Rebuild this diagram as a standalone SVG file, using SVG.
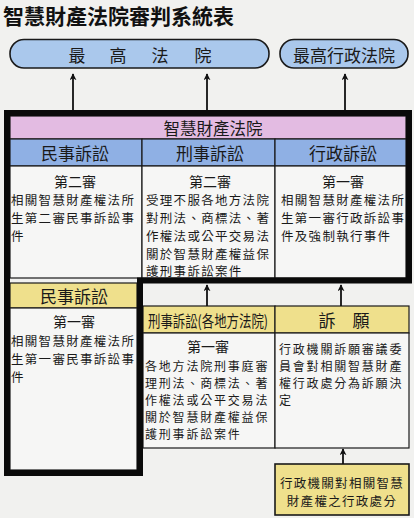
<svg xmlns="http://www.w3.org/2000/svg" width="414" height="518" viewBox="0 0 414 518">
<defs>
<style>
text{font-family:"Noto Sans CJK TC","Noto Sans CJK SC",sans-serif;fill:#1a1a1a}
.ttl{font-size:21px;font-weight:bold;fill:#111}
.pill{fill:#aac8ec;stroke:#1a1a1a;stroke-width:1.6}
.hb{fill:#8fb0e4;stroke:#1a1a1a;stroke-width:1.2}
.hy{fill:#efe08c;stroke:#1a1a1a;stroke-width:1.2}
.pk{fill:#e3bbe2;stroke:#1a1a1a;stroke-width:1.2}
.bd{fill:#f6f6f5;stroke:#1a1a1a;stroke-width:1.2}
.h{font-size:17px;text-anchor:middle;dominant-baseline:central}
.s{font-size:14px;text-anchor:middle;dominant-baseline:central}
.b{font-size:12.5px;letter-spacing:1.3px;dominant-baseline:central}
.b2{font-size:12px;letter-spacing:1.8px;dominant-baseline:central}
.c{text-anchor:middle}
.ln{stroke:#111;stroke-width:1.8;fill:none}
</style>
<marker id="ah" viewBox="0 0 10 10" refX="9" refY="5" markerWidth="7" markerHeight="7" orient="auto" markerUnits="userSpaceOnUse">
<path d="M0,0 L10,5 L0,10 L3,5 z" fill="#111"/>
</marker>
</defs>
<rect x="0" y="0" width="414" height="518" fill="#f1f1ef"/>
<text class="ttl" x="3" y="24">智慧財產法院審判系統表</text>

<g id="supreme-court">
<rect class="pill" x="10" y="39.5" width="259" height="28.5" rx="14"/>
<text class="h" x="77" y="54">最</text>
<text class="h" x="118" y="54">高</text>
<text class="h" x="160" y="54">法</text>
<text class="h" x="203" y="54">院</text>
</g>
<g id="supreme-admin-court">
<rect class="pill" x="280" y="39.5" width="128" height="28.5" rx="14"/>
<text class="h" x="344" y="54">最高行政法院</text>
</g>

<g id="ip-court">
<rect class="pk" x="10" y="116" width="396" height="23"/>
<text class="h" x="213" y="127.5" style="font-size:16.5px">智慧財產法院</text>
</g>

<g id="civil-2nd">
<rect class="hb" x="10" y="139" width="132" height="27"/>
<text class="h" x="75" y="152.5">民事訴訟</text>
<rect class="bd" x="10" y="166" width="132" height="112"/>
<text class="s" x="75" y="180.5">第二審</text>
<text class="b" x="11" y="199">相關智慧財產權法所</text>
<text class="b" x="11" y="217">生第二審民事訴訟事</text>
<text class="b" x="11" y="235">件</text>
</g>

<g id="criminal-2nd">
<rect class="hb" x="142" y="139" width="133" height="27"/>
<text class="h" x="210" y="152.5">刑事訴訟</text>
<rect class="bd" x="142" y="166" width="133" height="112"/>
<text class="s" x="210" y="180.5">第二審</text>
<text class="b" x="146" y="199">受理不服各地方法院</text>
<text class="b" x="146" y="217">對刑法、商標法、著</text>
<text class="b" x="146" y="235">作權法或公平交易法</text>
<text class="b" x="146" y="253">關於智慧財產權益保</text>
<text class="b" x="146" y="270.5">護刑事訴訟案件</text>
</g>

<g id="admin-1st">
<rect class="hb" x="275" y="139" width="131" height="27"/>
<text class="h" x="343" y="152.5">行政訴訟</text>
<rect class="bd" x="275" y="166" width="131" height="112"/>
<text class="s" x="343" y="180.5">第一審</text>
<text class="b" x="281" y="199">相關智慧財產權法所</text>
<text class="b" x="281" y="217">生第一審行政訴訟事</text>
<text class="b" x="281" y="235">件及強制執行事件</text>
</g>

<g id="civil-1st">
<rect class="hy" x="10" y="283" width="127" height="25"/>
<text class="h" x="74" y="295.5">民事訴訟</text>
<rect class="bd" x="10" y="308" width="127" height="162"/>
<text class="s" x="74" y="320.5">第一審</text>
<text class="b" x="11" y="340">相關智慧財產權法所</text>
<text class="b" x="11" y="358">生第一審民事訴訟事</text>
<text class="b" x="11" y="376">件</text>
</g>

<g id="criminal-1st">
<rect class="hy" x="143" y="306" width="132" height="27"/>
<text class="h" x="208" y="319.5" textLength="120" lengthAdjust="spacingAndGlyphs" style="font-size:16px">刑事訴訟(各地方法院)</text>
<rect class="bd" x="143" y="333" width="132" height="115"/>
<text class="s" x="208" y="346">第一審</text>
<text class="b2" x="145" y="365.5">各地方法院刑事庭審</text>
<text class="b2" x="145" y="382.5">理刑法、商標法、著</text>
<text class="b2" x="145" y="399.5">作權法或公平交易法</text>
<text class="b2" x="145" y="416.5">關於智慧財產權益保</text>
<text class="b2" x="145" y="433.5">護刑事訴訟案件</text>
</g>

<g id="petition">
<rect class="hy" x="275" y="306" width="134" height="27"/>
<text class="h" x="344" y="319.5">訴　願</text>
<rect class="bd" x="275" y="333" width="134" height="115"/>
<text class="b2" x="279" y="348">行政機關訴願審議委</text>
<text class="b2" x="279" y="365">員會對相關智慧財產</text>
<text class="b2" x="279" y="382">權行政處分為訴願決</text>
<text class="b2" x="279" y="399">定</text>
</g>

<g id="admin-action">
<rect class="hy" x="275" y="464" width="134" height="51" style="stroke-width:1.6"/>
<text class="b c" x="342" y="482">行政機關對相關智慧</text>
<text class="b c" x="342" y="500">財產權之行政處分</text>
</g>

<path d="M7,113 H409 V280.5 H140 V473 H7 Z" fill="none" stroke="#0a0a0a" stroke-width="6" stroke-linejoin="miter"/>

<g id="connectors">
<line class="ln" x1="73" y1="110" x2="73" y2="74" marker-end="url(#ah)"/>
<line class="ln" x1="207" y1="110" x2="207" y2="74" marker-end="url(#ah)"/>
<line class="ln" x1="345" y1="110" x2="345" y2="74" marker-end="url(#ah)"/>
<line class="ln" x1="207" y1="306" x2="207" y2="285" marker-end="url(#ah)"/>
<line class="ln" x1="341" y1="306" x2="341" y2="285" marker-end="url(#ah)"/>
<line class="ln" x1="343" y1="464" x2="343" y2="449" marker-end="url(#ah)"/>
</g>
</svg>
